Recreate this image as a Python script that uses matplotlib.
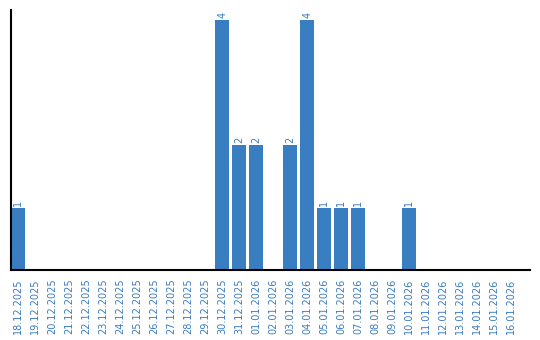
import matplotlib
matplotlib.use("Agg")
import matplotlib.pyplot as plt
import numpy as np

days = ["18.12.2025", "19.12.2025", "20.12.2025", "21.12.2025", "22.12.2025",
        "23.12.2025", "24.12.2025", "25.12.2025", "26.12.2025", "27.12.2025",
        "28.12.2025", "29.12.2025", "30.12.2025", "31.12.2025", "01.01.2026",
        "02.01.2026", "03.01.2026", "04.01.2026", "05.01.2026", "06.01.2026",
        "07.01.2026", "08.01.2026", "09.01.2026", "10.01.2026", "11.01.2026",
        "12.01.2026", "13.01.2026", "14.01.2026", "15.01.2026", "16.01.2026"]
counts = [1, 0, 0, 0, 0, 0, 0, 0, 0, 0, 0, 0, 4, 2, 2,
          0, 2, 4, 1, 1, 1, 0, 0, 1, 0, 0, 0, 0, 0, 0]

blue = "#3a7ec2"
txt = "#3a7bbf"

fig = plt.figure(figsize=(5.4, 3.4), dpi=100)
ax = fig.add_axes([10.5 / 540, 70 / 340, 519.5 / 540, 260 / 340])

x = np.arange(len(days))
ax.bar(x, counts, width=0.82, color=blue)
for xi, v in zip(x, counts):
    if v > 0:
        ax.text(xi, v + 0.03, str(v), rotation=90, ha="center", va="bottom",
                color=txt, fontsize=7)

ax.set_xlim(-0.44, 30.1)
ax.set_ylim(0, 4.16)
ax.set_xticks(x)
ax.set_xticklabels(days, rotation=90, fontsize=7, color=txt)
ax.tick_params(axis="x", length=0, pad=6)
ax.set_yticks([])
ax.spines["top"].set_visible(False)
ax.spines["right"].set_visible(False)
ax.spines["left"].set_linewidth(1.5)
ax.spines["bottom"].set_linewidth(1.5)

fig.savefig("out.png", dpi=100)
